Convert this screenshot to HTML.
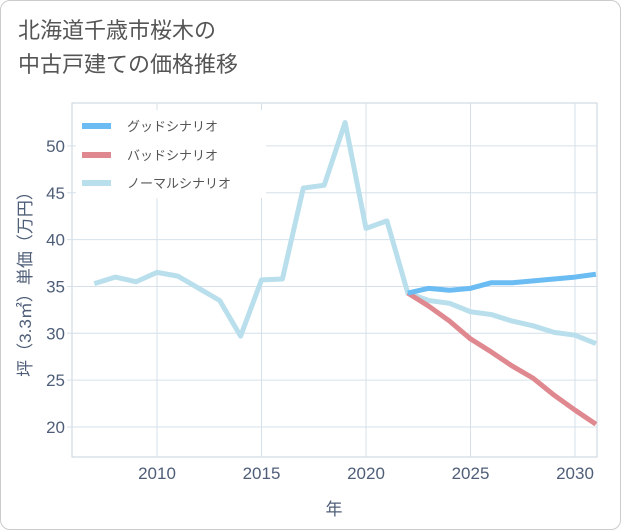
<!DOCTYPE html>
<html><head><meta charset="utf-8"><style>
body{margin:0;background:#fff;}
.card{position:absolute;left:0;top:0;width:619px;height:528px;border:1px solid #ccc;border-radius:10px;background:#fff;}
.title{position:absolute;left:18px;top:14px;font:22px "Liberation Sans","Noto Sans CJK JP",sans-serif;color:#555;line-height:34px;}
svg{position:absolute;left:0;top:0;font-family:"Liberation Sans","Noto Sans CJK JP",sans-serif;}
</style></head><body>
<div class="card"></div>
<div class="title">北海道千歳市桜木の<br>中古戸建ての価格推移</div>
<svg width="621" height="530" id="chart"></svg>
<script>
const years=[2007,2008,2009,2010,2011,2012,2013,2014,2015,2016,2017,2018,2019,2020,2021,2022,2023,2024,2025,2026,2027,2028,2029,2030,2031];
const normal=[35.3,36.0,35.5,36.5,36.1,34.8,33.5,29.7,35.7,35.8,45.5,45.8,52.5,41.2,42.0,34.3,33.5,33.2,32.3,32.0,31.3,30.8,30.1,29.8,28.9];
const goodYears=[2022,2023,2024,2025,2026,2027,2028,2029,2030,2031];
const good=[34.3,34.8,34.6,34.8,35.4,35.4,35.6,35.8,36.0,36.3];
const bad=[34.3,32.9,31.3,29.4,28.0,26.5,25.2,23.4,21.8,20.3];
const xTicks=[2010,2015,2020,2025,2030];
const yTicks=[20,25,30,35,40,45,50];
const L=72,R=597,T=103,B=457;
const x=v=>157+(v-2010)*20.9;
const y=v=>427-(v-20)*9.37;
const svg=document.getElementById('chart');
const NS='http://www.w3.org/2000/svg';
const TC='#4f5e78';
function mk(t,a){const e=document.createElementNS(NS,t);for(const k in a)e.setAttribute(k,a[k]);svg.appendChild(e);return e;}
const fr=mk('rect',{x:L,y:T,width:R-L,height:B-T,fill:'#fff',stroke:'#c8d3dc','stroke-width':1});


xTicks.forEach(t=>{
  const g=mk('line',{x1:x(t),x2:x(t),y1:T,y2:B,stroke:'#d5e0ea','stroke-width':1});
  
  
  const l=mk('text',{x:x(t),y:B+22,'text-anchor':'middle','font-size':17,fill:TC});
  l.textContent=t;
  
  
});
yTicks.forEach(t=>{
  const g=mk('line',{x1:L-5,x2:R,y1:y(t),y2:y(t),stroke:'#d5e0ea','stroke-width':1});
  
  
  const l=mk('text',{x:L-7,y:y(t)+6,'text-anchor':'end','font-size':17,fill:TC});
  l.textContent=t;
  
  
});
function line(xs,vs,color,name){
  const p=mk('polyline',{points:vs.map((v,i)=>x(xs[i])+','+y(v)).join(' '),fill:'none',stroke:color,'stroke-width':5,'stroke-linejoin':'round'});
  
  
}
line(years,normal,'#b9dfec','normal-scenario-line');
line(goodYears,bad,'#e0888f','bad-scenario-line');
line(goodYears,good,'#6bbcf3','good-scenario-line');
const lb=mk('rect',{x:76,y:110,width:190,height:88,fill:'#fff'});


[['グッドシナリオ','#6bbcf3',126],['バッドシナリオ','#e0888f',155],['ノーマルシナリオ','#b9dfec',183]].forEach(([n,c,yy])=>{
  const s=mk('line',{x1:82,x2:111,y1:yy,y2:yy,stroke:c,'stroke-width':6});
  
  
  const t=mk('text',{x:127,y:yy+5,'font-size':13,fill:'#555'});
  t.textContent=n;
  
  
});
const xt=mk('text',{x:334,y:515,'text-anchor':'middle','font-size':17,fill:TC});
xt.textContent='年';


const yt=mk('text',{x:0,y:0,'text-anchor':'middle','font-size':17,fill:TC,transform:'translate(31,280) rotate(-90)'});
yt.textContent='坪（3.3㎡）単価（万円）';


</script>
</body></html>
